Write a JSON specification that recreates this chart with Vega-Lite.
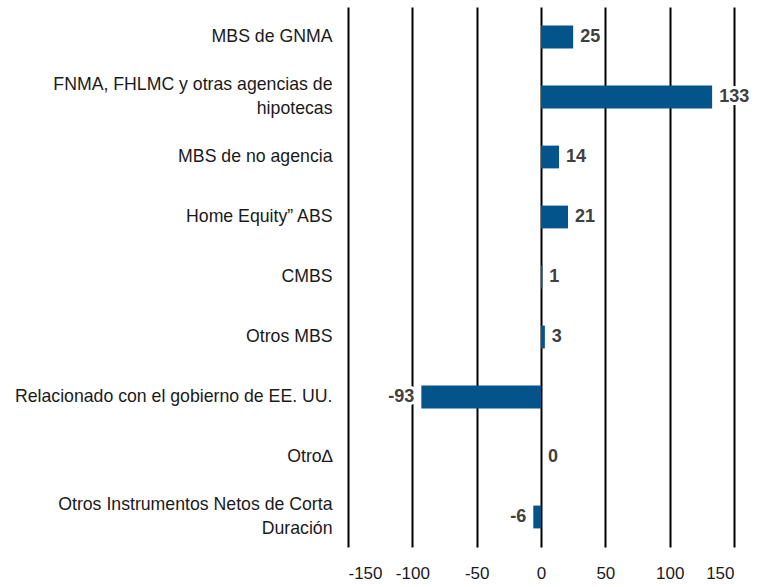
{
  "$schema": "https://vega.github.io/schema/vega-lite/v6.json",
  "autosize": "none",
  "width": 386,
  "height": 540,
  "padding": {"left": 348, "top": 7, "right": 32, "bottom": 40},
  "background": "white",
  "config": {"view": {"stroke": null}, "font": "Liberation Sans"},
  "data": {"values": [
    {"cat": "MBS de GNMA", "value": 25},
    {"cat": "FNMA, FHLMC y otras agencias de|hipotecas", "value": 133},
    {"cat": "MBS de no agencia", "value": 14},
    {"cat": "Home Equity” ABS", "value": 21},
    {"cat": "CMBS", "value": 1},
    {"cat": "Otros MBS", "value": 3},
    {"cat": "Relacionado con el gobierno de EE. UU.", "value": -93},
    {"cat": "Otro∆", "value": 0},
    {"cat": "Otros Instrumentos Netos de Corta|Duración", "value": -6}
  ]},
  "encoding": {
    "y": {"field": "cat", "type": "nominal", "sort": null,
      "scale": {"paddingInner": 0.62, "paddingOuter": 0.31},
      "axis": {"title": null, "domain": false, "ticks": false, "labelPadding": 16,
        "labelFont": "Liberation Sans", "labelFontSize": 17.7, "labelColor": "#1a1a1a", "labelLimit": 400,
        "labelExpr": "split(datum.label, '|')", "labelLineHeight": 24,
        "labelOffset": {"condition": {"test": "indexof(datum.label, '|') >= 0", "value": -12}, "value": 0}}},
    "x": {"field": "value", "type": "quantitative",
      "scale": {"domain": [-150, 150], "nice": false},
      "axis": {"title": null, "values": [-150, -100, -50, 0, 50, 100, 150],
        "labelExpr": "datum.value + ''",
        "domain": false, "ticks": false, "labelPadding": 18, "labelFontSize": 17,
        "labelFont": "Liberation Sans",
        "labelColor": "#1a1a1a", "gridColor": "#000000", "gridWidth": 2, "gridOpacity": 1}}
  },
  "layer": [
    {"mark": {"type": "bar", "color": "#02548A"}},
    {"transform": [{"filter": "datum.value >= 0"}],
     "mark": {"type": "text", "align": "left", "dx": 7, "fontSize": 18, "fontWeight": "bold",
       "stroke": "white", "strokeWidth": 6, "color": "white"},
     "encoding": {"text": {"field": "value"}}},
    {"transform": [{"filter": "datum.value < 0"}],
     "mark": {"type": "text", "align": "right", "dx": -7, "fontSize": 18, "fontWeight": "bold",
       "stroke": "white", "strokeWidth": 6, "color": "white"},
     "encoding": {"text": {"field": "value"}}},
    {"transform": [{"filter": "datum.value >= 0"}],
     "mark": {"type": "text", "align": "left", "dx": 7, "fontSize": 18, "fontWeight": "bold", "color": "#404040"},
     "encoding": {"text": {"field": "value"}}},
    {"transform": [{"filter": "datum.value < 0"}],
     "mark": {"type": "text", "align": "right", "dx": -7, "fontSize": 18, "fontWeight": "bold", "color": "#404040"},
     "encoding": {"text": {"field": "value"}}}
  ]
}
